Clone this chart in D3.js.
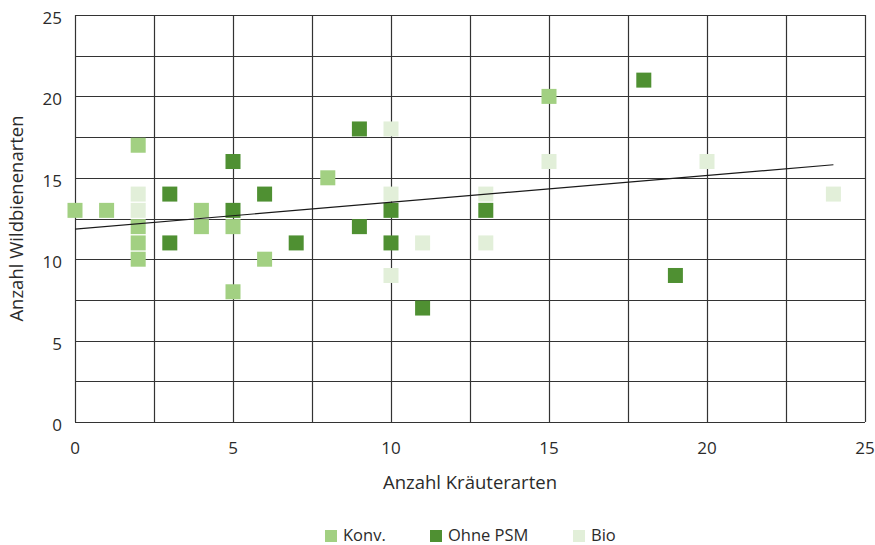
<!DOCTYPE html>
<html>
<head>
<meta charset="utf-8">
<script src="https://cdn.jsdelivr.net/npm/d3@7"></script>
<style>
  body { margin: 0; background: #fff; }
  svg text { font-family: "Open Sans", "Noto Sans", sans-serif; fill: #2b2b2b; }
</style>
</head>
<body>
<div id="chart"></div>
<script>
// --------------- Data ---------------
const konvX = [0, 1, 2, 2, 2, 2, 4, 4, 5, 5, 6, 8, 15];
const konvY = [13, 13, 17, 12, 11, 10, 13, 12, 12, 8, 10, 15, 20];

const ohneX = [3, 3, 5, 5, 6, 7, 9, 9, 10, 10, 11, 13, 18, 19];
const ohneY = [14, 11, 16, 13, 14, 11, 18, 12, 13, 11, 7, 13, 21, 9];

const bioX = [2, 2, 10, 10, 10, 11, 13, 13, 15, 20, 24];
const bioY = [14, 13, 18, 14, 9, 11, 14, 11, 16, 16, 14];

const trendX = [0, 24];
const trendY = [11.85, 15.8];

const tickValues = [0, 5, 10, 15, 20, 25];
const seriesNames = ["Konv.", "Ohne PSM", "Bio"];
const seriesColors = ["#a2d082", "#4f9032", "#e2efd9"];

const WIDTH = 875;
const HEIGHT = 545;
const margin = { left: 75, right: 10, top: 15, bottom: 123 };
const MARK = 15;

const svg = d3.select("#chart")
  .append("svg")
  .attr("width", WIDTH)
  .attr("height", HEIGHT);

const x = d3.scaleLinear().domain([0, 25]).range([margin.left, WIDTH - margin.right]);
const y = d3.scaleLinear().domain([0, 25]).range([HEIGHT - margin.bottom, margin.top]);

// --------------- Grid ---------------
const gridTicks = d3.range(0, 25.01, 2.5);
const grid = svg.append("g");
grid.selectAll("line.v")
  .data(gridTicks)
  .enter().append("line")
  .attr("x1", d => Math.round(x(d)) + 0.5)
  .attr("x2", d => Math.round(x(d)) + 0.5)
  .attr("y1", y(0))
  .attr("y2", y(25))
  .attr("stroke", "#333")
  .attr("stroke-width", 1.2);
grid.selectAll("line.h")
  .data(gridTicks)
  .enter().append("line")
  .attr("y1", d => Math.round(y(d)) + 0.5)
  .attr("y2", d => Math.round(y(d)) + 0.5)
  .attr("x1", x(0))
  .attr("x2", x(25))
  .attr("stroke", "#333")
  .attr("stroke-width", 1.2);

// --------------- Axes labels ---------------
svg.append("g")
  .selectAll("text")
  .data(tickValues)
  .enter().append("text")
  .attr("x", margin.left - 13)
  .attr("y", d => y(d) + 9)
  .attr("text-anchor", "end")
  .style("font-size", "17px")
  .text(d => d);

svg.append("g")
  .selectAll("text")
  .data(tickValues)
  .enter().append("text")
  .attr("x", d => x(d))
  .attr("y", y(0) + 32)
  .attr("text-anchor", "middle")
  .style("font-size", "17px")
  .text(d => d);

svg.append("text")
  .attr("x", (x(0) + x(25)) / 2)
  .attr("y", 489)
  .attr("text-anchor", "middle")
  .style("font-size", "18.5px")
  .text("Anzahl Kräuterarten");

svg.append("text")
  .attr("transform", `translate(23,${(y(0) + y(25)) / 2}) rotate(-90)`)
  .attr("text-anchor", "middle")
  .style("font-size", "18.5px")
  .text("Anzahl Wildbienenarten");

// --------------- Points ---------------
const series = [
  { xs: konvX, ys: konvY },
  { xs: ohneX, ys: ohneY },
  { xs: bioX, ys: bioY }
];
// draw Bio first so it sits under the others, like the original
[2, 0, 1].forEach(k => {
  svg.append("g")
    .selectAll("rect")
    .data(series[k].xs.map((v, i) => [v, series[k].ys[i]]))
    .enter().append("rect")
    .attr("x", d => x(d[0]) - MARK / 2)
    .attr("y", d => y(d[1]) - MARK / 2)
    .attr("width", MARK)
    .attr("height", MARK)
    .attr("fill", seriesColors[k]);
});

// --------------- Trend line ---------------
svg.append("path")
  .datum(trendX.map((v, i) => [v, trendY[i]]))
  .attr("d", d3.line().x(d => x(d[0])).y(d => y(d[1])))
  .attr("fill", "none")
  .attr("stroke", "#1a1a1a")
  .attr("stroke-width", 1.2);

// --------------- Legend ---------------
const legendX = [325, 430, 573];
const legend = svg.append("g");
seriesNames.forEach((name, i) => {
  legend.append("rect")
    .attr("x", legendX[i])
    .attr("y", 530)
    .attr("width", 12)
    .attr("height", 12)
    .attr("fill", seriesColors[i]);
  legend.append("text")
    .attr("x", legendX[i] + 18)
    .attr("y", 541)
    .style("font-size", "16.5px")
    .text(name);
});
</script>
</body>
</html>
